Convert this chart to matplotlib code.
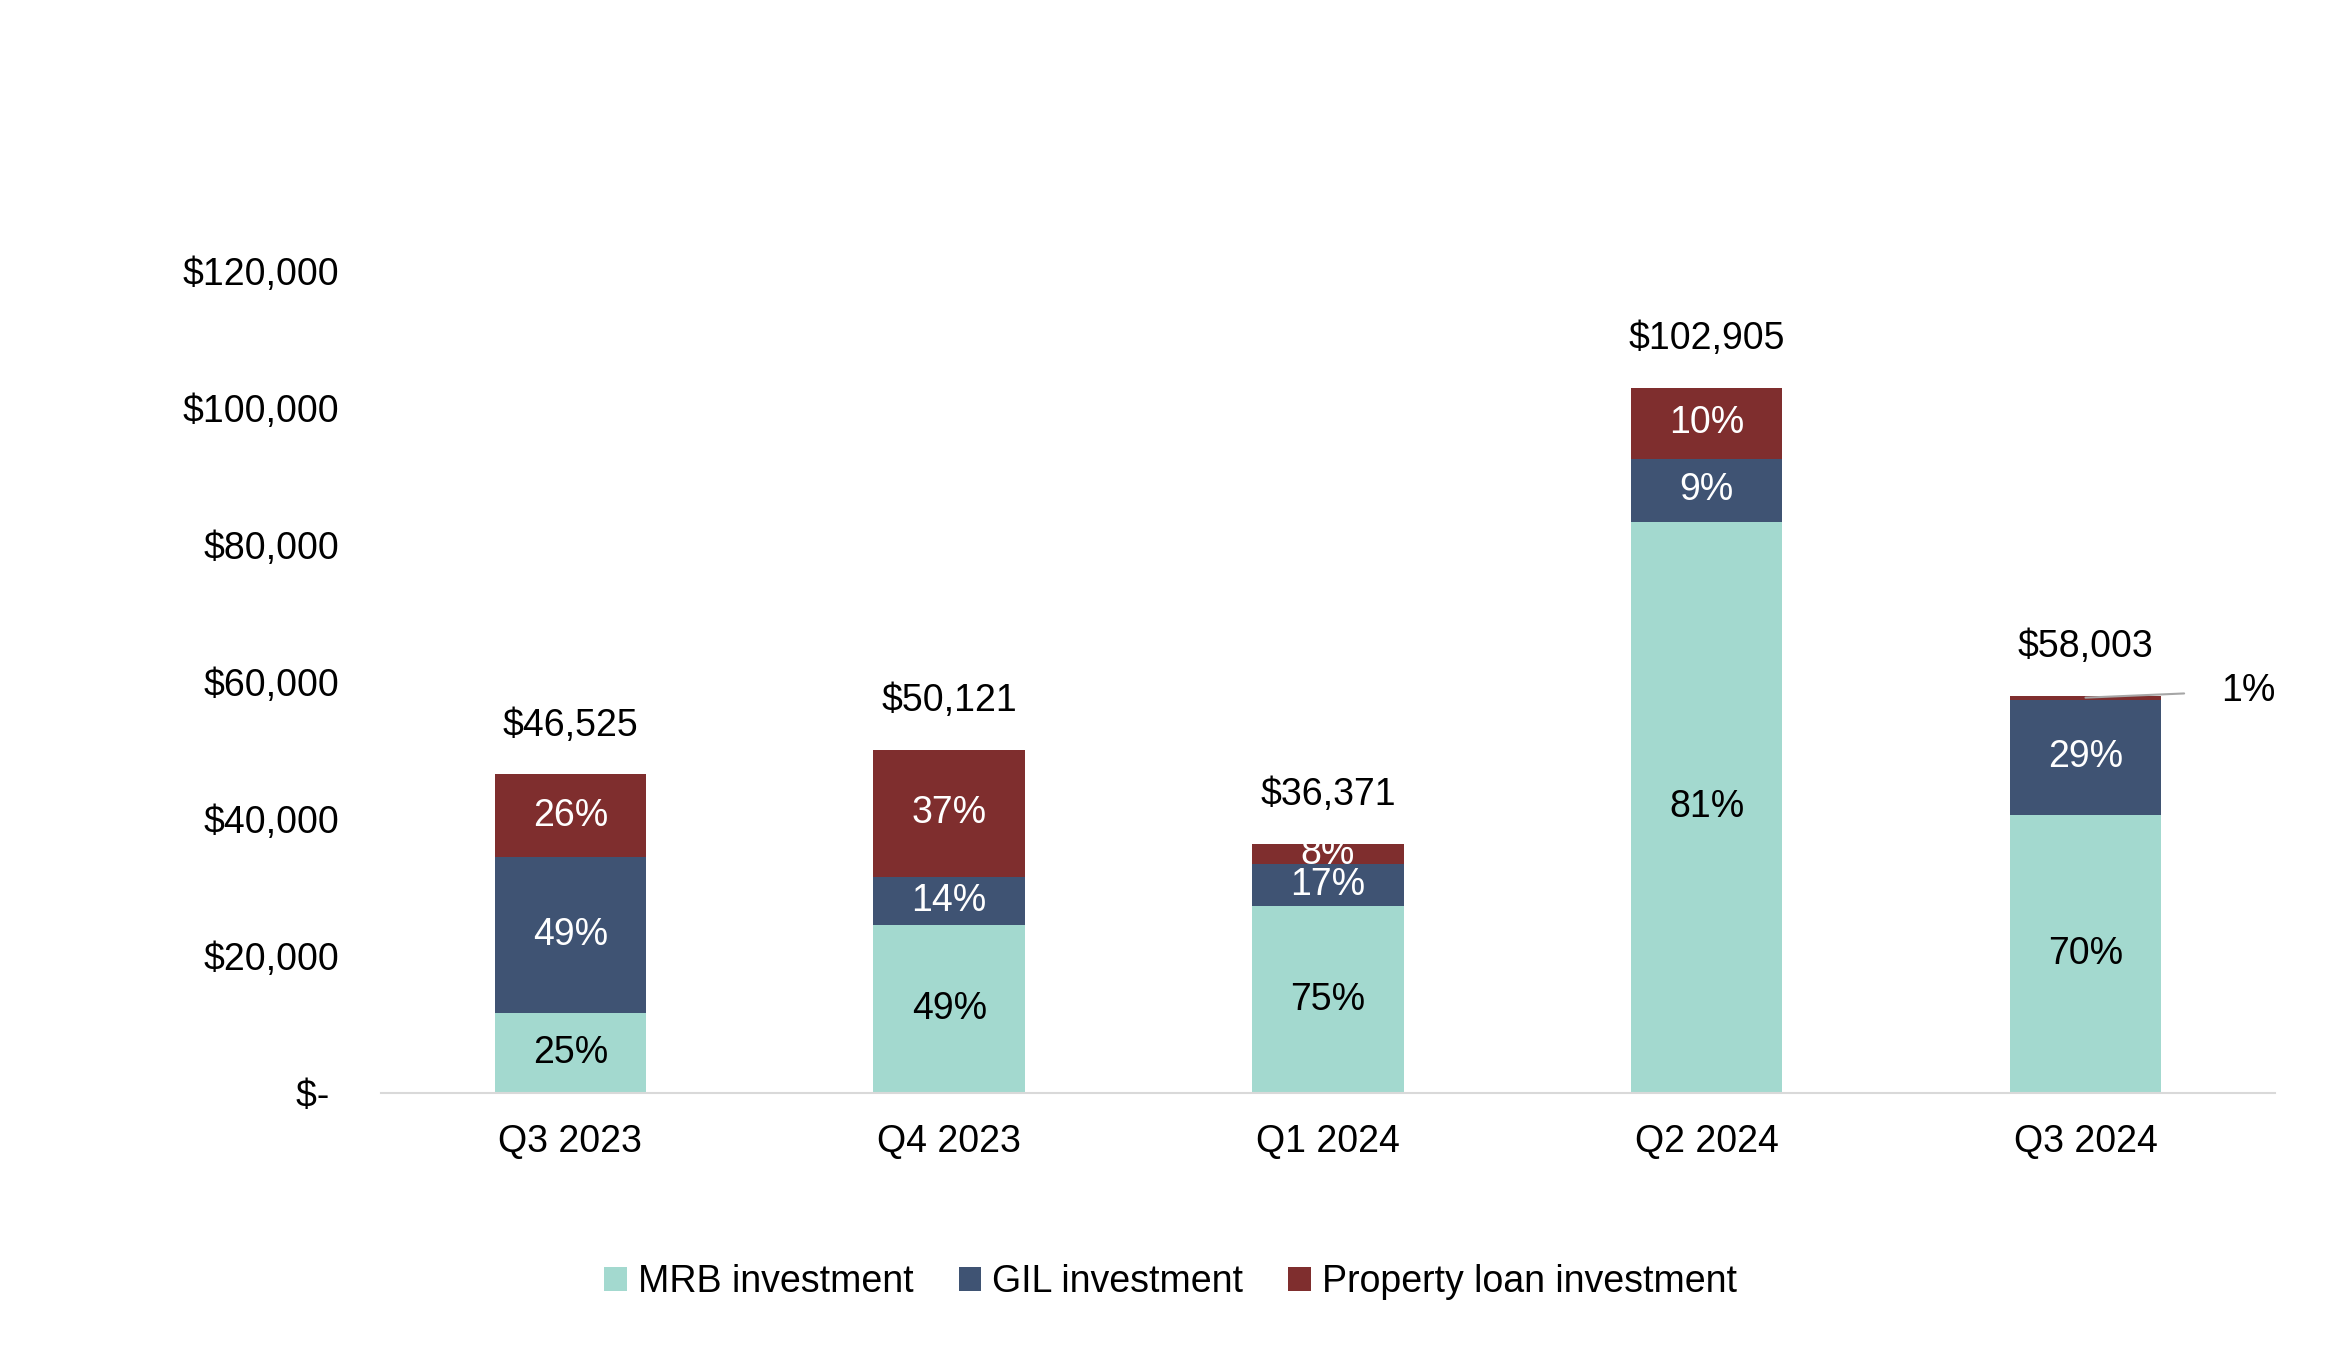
import numpy as np
import matplotlib.pyplot as plt

plt.rcParams['font.family'] = ['Liberation Sans', 'DejaVu Sans']

quarters = ['Q3 2023', 'Q4 2023', 'Q1 2024', 'Q2 2024', 'Q3 2024']
totals = [46525, 50121, 36371, 102905, 58003]
# share of each investment type in the quarter total (%)
mrb_pct = [25, 49, 75, 81, 70]
gil_pct = [49, 14, 17, 9, 29]
prop_pct = [26, 37, 8, 10, 1]

series_names = ['MRB investment', 'GIL investment', 'Property loan investment']
colors = ['#A3D9CF', '#3F5373', '#7F2E2E']
text_colors = ['black', 'white', 'white']

tot = np.array(totals, dtype=float)
pcts = [np.array(mrb_pct), np.array(gil_pct), np.array(prop_pct)]
# split the totals by share so the segments add back to the total
pct_sum = sum(pcts)
values = [tot * p / pct_sum for p in pcts]

FS = 27

fig = plt.figure(figsize=(23.32, 13.47), dpi=100)
ax = fig.add_axes([0.1634, 0.1886, 0.8121, 0.6102])

x = np.arange(len(quarters))
bottom = np.zeros(len(quarters))
for vals, p, name, col, tcol in zip(values, pcts, series_names, colors, text_colors):
    ax.bar(x, vals, width=0.40, bottom=bottom, color=col, label=name)
    for i in range(len(x)):
        if p[i] >= 5:
            ax.text(x[i], bottom[i] + vals[i] / 2, f'{p[i]}%', ha='center', va='center',
                    color=tcol, fontsize=FS)
        else:
            # tiny slice: label outside with a leader line
            ax.annotate(f'{p[i]}%', xy=(x[i], bottom[i] + vals[i] / 2),
                        xytext=(98, 5), textcoords='offset points',
                        ha='left', va='center', fontsize=FS, color='black',
                        arrowprops=dict(arrowstyle='-', color='#A6A6A6', lw=1.5,
                                        shrinkA=25, shrinkB=0))
    bottom += vals

for i in range(len(x)):
    ax.annotate(f'${totals[i]:,}', xy=(x[i], totals[i]), xytext=(0, 35),
                textcoords='offset points', ha='center', va='center', fontsize=FS)

ax.set_xlim(-0.5, len(quarters) - 0.5)
ax.set_ylim(0, 120000)
ax.set_yticks(np.arange(0, 120001, 20000))
ax.set_yticklabels(['$- '] + [f'${v:,}' for v in range(20000, 120001, 20000)])
ax.set_xticks(x)
ax.set_xticklabels(quarters)
ax.tick_params(axis='both', length=0, labelsize=FS)
ax.tick_params(axis='y', pad=30)
ax.tick_params(axis='x', pad=22)

for s in ['top', 'right', 'left']:
    ax.spines[s].set_visible(False)
ax.spines['bottom'].set_color('#D9D9D9')
ax.spines['bottom'].set_linewidth(1.5)

fig.legend(loc='center', bbox_to_anchor=(0.502, 0.048), ncol=3, frameon=False,
           fontsize=FS, handlelength=0.6, handleheight=0.6, handletextpad=0.3,
           columnspacing=1.2)

fig.savefig('out.png', dpi=100, facecolor='white')
